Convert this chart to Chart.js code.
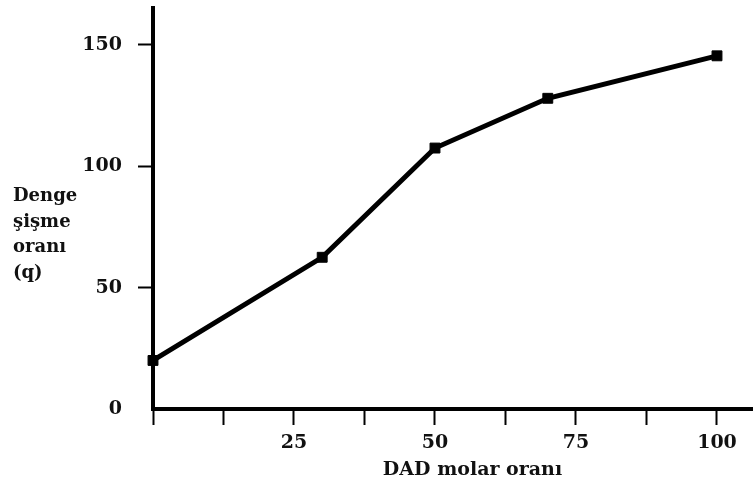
<!DOCTYPE html>
<html>
<head>
<meta charset="utf-8">
<script src="https://cdn.jsdelivr.net/npm/chart.js@4/dist/chart.umd.min.js"></script>
<style>
  html, body { margin: 0; padding: 0; overflow: hidden; background: #fff; width: 753px; height: 486px; }
  #wrap { width: 800px; height: 486px; }
</style>
</head>
<body>
<div id="wrap"><canvas id="c" width="800" height="486"></canvas></div>
<script>
// DAD molar ratio vs equilibrium swelling ratio (q)
const dadRatio = [0, 30, 50, 70, 100];
const swellingRatio = [20, 62.5, 107.5, 128, 145.5];

const xTickValues = [0, 12.5, 25, 37.5, 50, 62.5, 75, 87.5, 100];
const xLabelValues = [25, 50, 75, 100];
const yTickValues = [0, 50, 100, 150];

const xTitle = 'DAD molar oranı';
const yTitleLines = ['Denge', 'şişme', 'oranı', '(q)'];

const INK = '#111';
const labelFont = { family: '"DejaVu Serif", serif', weight: 'bold', size: 19 };

// Horizontal, multi-line y-axis caption at the left
const yCaption = {
  id: 'yCaption',
  afterDraw(chart) {
    const ctx = chart.ctx;
    ctx.save();
    ctx.fillStyle = INK;
    ctx.font = 'bold 18px "DejaVu Serif", serif';
    ctx.textAlign = 'left';
    ctx.textBaseline = 'alphabetic';
    yTitleLines.forEach((line, i) => ctx.fillText(line, 13, 201 + i * 25.5));
    ctx.restore();
  }
};

new Chart(document.getElementById('c'), {
  type: 'line',
  data: {
    datasets: [{
      data: dadRatio.map((x, i) => ({ x, y: swellingRatio[i] })),
      borderColor: '#000',
      backgroundColor: '#000',
      borderWidth: 5,
      pointStyle: 'rect',
      pointRadius: 7,
      pointBorderWidth: 1,
      pointBackgroundColor: '#000',
      pointBorderColor: '#000',
      tension: 0,
      clip: false
    }]
  },
  options: {
    responsive: false,
    animation: false,
    devicePixelRatio: 1,
    layout: { padding: { top: 8, left: 0, right: 0, bottom: 0 } },
    plugins: { legend: { display: false }, tooltip: { enabled: false } },
    scales: {
      x: {
        type: 'linear',
        min: 0,
        max: 113.3,
        afterFit(scale) {
          scale.height = 77;
          scale.paddingLeft = 0;
          scale.paddingRight = 0;
        },
        afterBuildTicks(scale) { scale.ticks = xTickValues.map(v => ({ value: v })); },
        border: { display: true, color: '#000', width: 4 },
        grid: { drawOnChartArea: false, drawTicks: true, tickLength: 16, tickWidth: 2, tickColor: '#000' },
        ticks: {
          autoSkip: false,
          maxRotation: 0,
          padding: 7,
          color: INK,
          font: labelFont,
          callback: v => (xLabelValues.includes(v) ? String(v) : '')
        },
        title: {
          display: true,
          text: xTitle,
          color: INK,
          font: { family: '"DejaVu Serif", serif', weight: 'bold', size: 19 },
          padding: { top: 0, bottom: 5 }
        }
      },
      y: {
        type: 'linear',
        min: 0,
        max: 165.2,
        afterFit(scale) {
          scale.width = 153;
          scale.paddingTop = 0;
          scale.paddingBottom = 0;
        },
        afterBuildTicks(scale) { scale.ticks = yTickValues.map(v => ({ value: v })); },
        border: { display: true, color: '#000', width: 4 },
        grid: {
          drawOnChartArea: false,
          drawTicks: true,
          tickLength: 15,
          tickWidth: 2,
          tickColor: c => (c.tick && c.tick.value === 0 ? 'rgba(0,0,0,0)' : '#000')
        },
        ticks: {
          padding: 16,
          color: INK,
          font: labelFont,
          callback: v => String(v)
        }
      }
    }
  },
  plugins: [yCaption]
});
</script>
</body>
</html>
